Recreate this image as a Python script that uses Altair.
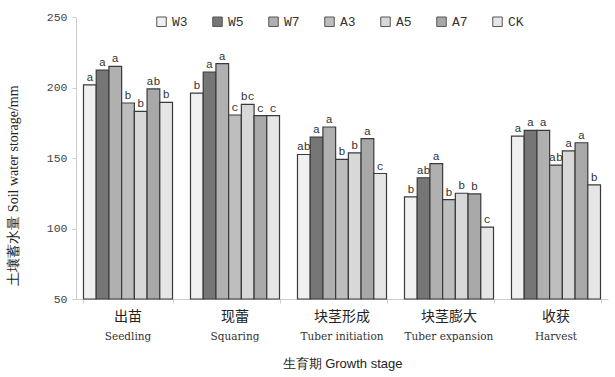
import altair as alt
import pandas as pd

stages_cn = ["出苗", "现蕾", "块茎形成", "块茎膨大", "收获"]
stages_en = ["Seedling", "Squaring", "Tuber initiation", "Tuber expansion", "Harvest"]
treatments = ["W3", "W5", "W7", "A3", "A5", "A7", "CK"]
colors = ["#f0f0f0", "#767676", "#b0b0b0", "#bebebe", "#d8d8d8", "#a8a8a8", "#e6e6e6"]

values = {
    "Seedling":         [201.8, 212.3, 215.0, 189.0, 183.0, 199.0, 189.5],
    "Squaring":         [196.0, 211.0, 217.0, 180.5, 188.0, 180.0, 180.0],
    "Tuber initiation": [152.5, 164.8, 172.0, 149.0, 153.7, 163.7, 139.0],
    "Tuber expansion":  [122.4, 136.0, 146.0, 120.5, 125.0, 124.5, 101.0],
    "Harvest":          [165.5, 169.6, 169.6, 145.0, 155.0, 160.8, 131.0],
}
letters = {
    "Seedling":         ["a", "a", "a", "b", "b", "ab", "b"],
    "Squaring":         ["b", "a", "a", "c", "bc", "c", "c"],
    "Tuber initiation": ["ab", "a", "a", "b", "b", "a", "c"],
    "Tuber expansion":  ["b", "ab", "a", "b", "b", "b", "c"],
    "Harvest":          ["a", "a", "a", "ab", "a", "a", "b"],
}

rows = []
for cn, en in zip(stages_cn, stages_en):
    for t, v, l in zip(treatments, values[en], letters[en]):
        rows.append({"stage": en, "cn": cn, "treat": t, "value": v, "sig": l})
df = pd.DataFrame(rows)
lab = pd.DataFrame({"stage": stages_en, "cn": stages_cn})

xscale = alt.Scale(domain=stages_en, paddingInner=0.168, paddingOuter=0.07)
xenc = alt.X("stage:N", scale=xscale, sort=stages_en,
             axis=alt.Axis(labels=False, ticks=True, tickColor="#cccccc", tickSize=4,
                           tickBand="extent",
                           domainColor="#cccccc", title="生育期 Growth stage",
                           titleFont="Liberation Sans", titleFontSize=13, titleFontWeight="normal",
                           titleColor="#222222", titlePadding=54))
yscale = alt.Scale(domain=[50, 250], nice=False)
xoff = alt.XOffset("treat:N", sort=treatments, scale=alt.Scale(domain=treatments, paddingInner=0, paddingOuter=0))

bars = alt.Chart(df).mark_bar(stroke="#3a3a3a", strokeWidth=1.2).encode(
    x=xenc,
    xOffset=xoff,
    y=alt.Y("value:Q", scale=yscale,
            axis=alt.Axis(values=[50, 100, 150, 200, 250], grid=False, tickSize=4,
                          tickColor="#cccccc", domainColor="#cccccc",
                          labelFont="Liberation Mono", labelFontSize=11.5, labelColor="#444444",
                          labelPadding=5,
                          title="土壤蓄水量 Soil water storage/mm", titleFont="Liberation Serif",
                          titleFontSize=14, titleFontWeight="normal", titleColor="#222222",
                          titlePadding=26, titleY=168)),
    y2=alt.datum(50),
    fill=alt.Fill("treat:N", sort=treatments,
                  scale=alt.Scale(domain=treatments, range=colors),
                  legend=alt.Legend(orient="none", direction="horizontal", legendX=79, legendY=-2,
                                    title=None, symbolType="square", symbolSize=90,
                                    symbolStrokeColor="#555555", symbolStrokeWidth=1,
                                    labelFont="Liberation Mono", labelFontSize=13, labelColor="#333333",
                                    columnPadding=22, labelOffset=4)),
)

sig = alt.Chart(df).mark_text(dy=-7, font="Liberation Mono", fontSize=11.5, color="#333333").encode(
    x=alt.X("stage:N", scale=xscale, sort=stages_en),
    xOffset=xoff,
    y=alt.Y("value:Q", scale=yscale),
    text="sig:N",
)

cn_lab = alt.Chart(lab).mark_text(font="Noto Sans CJK SC", fontSize=14, color="#222222").encode(
    x=alt.X("stage:N", scale=xscale, sort=stages_en),
    y=alt.value(300),
    text="cn:N",
)
en_lab = alt.Chart(lab).mark_text(font="DejaVu Serif", fontSize=10.5, color="#333333").encode(
    x=alt.X("stage:N", scale=xscale, sort=stages_en),
    y=alt.value(320),
    text="stage:N",
)

chart = alt.layer(bars, sig, cn_lab, en_lab).properties(
    width=532, height=282,
    autosize=alt.AutoSizeParams(type="none"),
    padding={"left": 76, "top": 17, "right": 7, "bottom": 78},
    background="white",
).configure_view(stroke=None)

chart.save("out.html", embed_options={"renderer": "svg", "actions": False})
